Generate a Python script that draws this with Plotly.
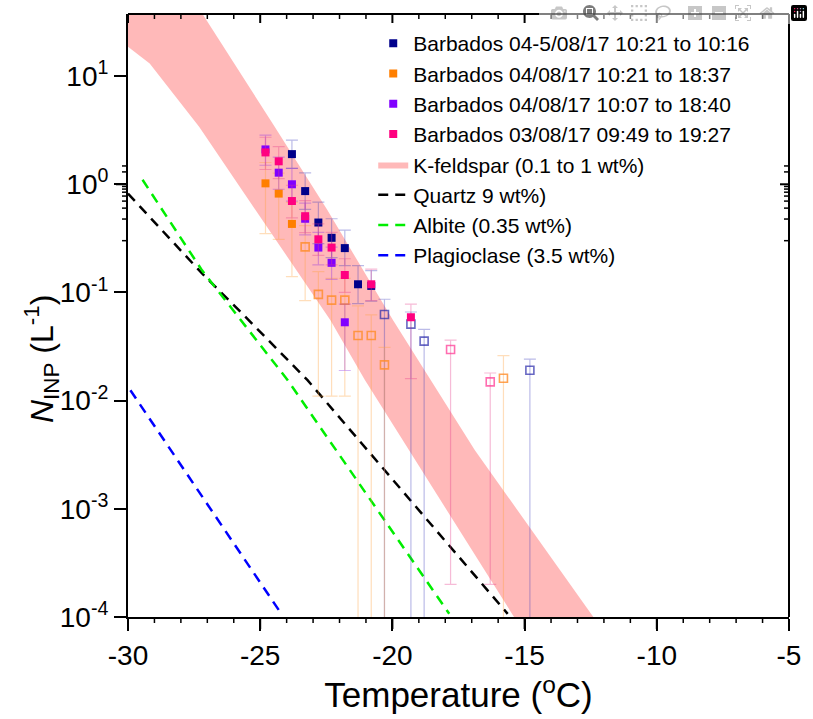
import math
import plotly.graph_objects as go

# ---------------- data ----------------
# Barbados 04-5/08/17 10:21 to 10:16 (navy)
navy_T = [-23.8, -23.3, -22.8, -22.3, -21.8, -21.3, -20.8]
navy_N = [1.90, 0.865, 0.443, 0.32, 0.257, 0.119, 0.115]
navy_up = [0.66, 0.41, 0.24, 0.16, 0.12, 0.058, 0.044]
navy_lo = [0.50, 0.28, 0.16, 0.11, 0.08, 0.040, 0.032]
navy_open_T = [-20.3, -19.3, -18.8, -14.8]
navy_open_N = [0.0625, 0.051, 0.0355, 0.0191]
navy_open_up = [0.024, 0.015, 0.010, 0.0051]
navy_open_lo = [0.0625, 0.051, 0.0355, 0.0191]

# Barbados 04/08/17 10:21 to 18:37 (orange)
orange_T = [-24.8, -24.3, -23.8]
orange_N = [1.02, 0.82, 0.43]
orange_up = [0.57, 0.45, 0.25]
orange_lo = [0.67, 0.51, 0.29]
orange_open_T = [-23.3, -22.8, -22.3, -21.8, -21.3, -20.8, -20.3, -15.8]
orange_open_N = [0.264, 0.096, 0.085, 0.085, 0.040, 0.040, 0.0214, 0.0161]
orange_open_up = [0.15, 0.06, 0.05, 0.05, 0.035, 0.022, 0.0097, 0.010]
orange_open_lo = [0.18, 0.085, 0.074, 0.074, 0.040, 0.040, 0.0214, 0.0161]

# Barbados 04/08/17 10:07 to 18:40 (purple)
purple_T = [-24.8, -24.3, -23.8, -23.3, -22.8, -22.3, -21.8]
purple_N = [2.1, 1.28, 1.0, 0.48, 0.26, 0.188, 0.053]
purple_up = [0.75, 0.50, 0.40, 0.19, 0.10, 0.075, 0.025]
purple_lo = [0.60, 0.38, 0.30, 0.14, 0.08, 0.056, 0.034]

# Barbados 03/08/17 09:49 to 19:27 (pink)
pink_T = [-24.8, -24.3, -23.8, -23.3, -22.8, -22.3, -21.8, -20.8, -19.3]
pink_N = [1.97, 1.63, 0.70, 0.507, 0.31, 0.26, 0.145, 0.119, 0.059]
pink_up = [0.75, 0.60, 0.28, 0.20, 0.12, 0.10, 0.06, 0.045, 0.019]
pink_lo = [0.60, 0.50, 0.21, 0.15, 0.09, 0.08, 0.045, 0.035, 0.043]
pink_open_T = [-17.8, -16.3]
pink_open_N = [0.0297, 0.0149]
pink_open_up = [0.0065, 0.0031]
pink_open_lo = [0.0295, 0.0147]

# K-feldspar band edges (0.1 wt% lower edge, 1 wt% upper edge)
kf_low_T = [-30.0, -29.18, -27.31, -22.35, -21.04, -15.4]
kf_low_N = [18.7, 13.1, 3.40, 0.0555, 0.0155, 1.0e-4]
kf_up_T = [-30.0, -27.2, -24.5, -22.46, -19.98, -16.88, -12.4]
kf_up_N = [447.0, 37.5, 3.55, 0.577, 0.0555, 0.00348, 1.0e-4]

# Mineral parameterisation lines
quartz_T = [-30.0, -27.2, -25.7, -23.21, -15.64]
quartz_N = [0.82, 0.150, 0.0646, 0.01545, 1.07e-4]
albite_T = [-29.45, -27.2, -23.96, -17.85]
albite_N = [1.10, 0.160, 0.01545, 1.07e-4]
plag_T = [-29.91, -24.2]
plag_N = [0.01247, 1.07e-4]

y_tick_vals = [1e-4, 1e-3, 1e-2, 1e-1, 1e0, 1e1]
y_tick_text = ["10<sup>-4</sup>", "10<sup>-3</sup>", "10<sup>-2</sup>",
               "10<sup>-1</sup>", "10<sup>0</sup>", "10<sup>1</sup>"]
y_minor_vals = [m * 10.0 ** e for e in range(-4, 2) for m in range(2, 10) if m * 10.0 ** e < 37]
x_tick_vals = [-30, -25, -20, -15, -10, -5]
x_tick_text = ["-30", "-25", "-20", "-15", "-10", "-5"]
x_minor_vals = [v for v in range(-29, -5) if v % 5 != 0]

# ---------------- figure ----------------
FONT = "Liberation Sans, Arial, sans-serif"
fig = go.Figure()

# K-feldspar band
fig.add_trace(go.Scatter(
    x=kf_low_T + kf_up_T[::-1], y=kf_low_N + kf_up_N[::-1],
    mode="lines", fill="toself", fillcolor="rgba(255,100,100,0.45)",
    line=dict(width=0, color="rgba(255,100,100,0.45)"),
    name="K-feldspar (0.1 to 1 wt%)", legendrank=5, hoverinfo="skip"))

dash = "10px,7px"
fig.add_trace(go.Scatter(x=quartz_T, y=quartz_N, mode="lines",
                         line=dict(color="black", width=2.5, dash=dash),
                         name="Quartz 9 wt%)", legendrank=6))
fig.add_trace(go.Scatter(x=albite_T, y=albite_N, mode="lines",
                         line=dict(color="#00ee00", width=2.5, dash=dash),
                         name="Albite (0.35 wt%)", legendrank=7))
fig.add_trace(go.Scatter(x=plag_T, y=plag_N, mode="lines",
                         line=dict(color="#0000ff", width=2.5, dash=dash),
                         name="Plagioclase (3.5 wt%)", legendrank=8))

series = [
    ("Barbados 04-5/08/17 10:21 to 10:16", "#00008b", "rgba(40,40,170,0.7)", "rgba(60,60,190,0.35)",
     navy_T, navy_N, navy_up, navy_lo, navy_open_T, navy_open_N, navy_open_up, navy_open_lo, 1),
    ("Barbados 04/08/17 10:21 to 18:37", "#ff7f00", "rgba(255,140,40,0.8)", "rgba(255,160,60,0.35)",
     orange_T, orange_N, orange_up, orange_lo, orange_open_T, orange_open_N, orange_open_up, orange_open_lo, 2),
    ("Barbados 04/08/17 10:07 to 18:40", "#8000ff", "rgba(128,0,255,0.7)", "rgba(140,40,230,0.35)",
     purple_T, purple_N, purple_up, purple_lo, [], [], [], [], 3),
    ("Barbados 03/08/17 09:49 to 19:27", "#ff0080", "rgba(255,60,150,0.75)", "rgba(230,60,140,0.35)",
     pink_T, pink_N, pink_up, pink_lo, pink_open_T, pink_open_N, pink_open_up, pink_open_lo, 4),
]

for name, col, ocol, ecol, T, N, up, lo, oT, oN, oup, olo, rank in series:
    if oT:
        fig.add_trace(go.Scatter(
            x=oT, y=oN, mode="markers", showlegend=False,
            marker=dict(symbol="square-open", size=8, color=ocol, line=dict(width=1.6, color=ocol)),
            error_y=dict(type="data", symmetric=False, array=oup, arrayminus=olo,
                         color=ecol, thickness=1.2, width=6)))
for name, col, ocol, ecol, T, N, up, lo, oT, oN, oup, olo, rank in series:
    fig.add_trace(go.Scatter(
        x=T, y=N, mode="markers", name=name, legendrank=rank,
        marker=dict(symbol="square", size=8, color=col),
        error_y=dict(type="data", symmetric=False, array=up, arrayminus=lo,
                     color=ecol, thickness=1.2, width=6)))

# ---------------- frame and tick marks (drawn as shapes) ----------------
shapes = []
blk = "black"
shapes.append(dict(type="line", xref="paper", yref="paper", x0=0, x1=1, y0=1, y1=1,
                   opacity=1, layer="above", line=dict(color=blk, width=2)))
shapes.append(dict(type="line", xref="paper", yref="paper", x0=1, x1=1, y0=0, y1=1,
                   opacity=1, layer="above", line=dict(color=blk, width=2)))


def xtick(v, anchor, length, width):
    return dict(type="line", xref="x", yref="paper", x0=v, x1=v,
                ysizemode="pixel", yanchor=anchor, y0=0, y1=length,
                opacity=1, layer="above", line=dict(color=blk, width=width))


def ytick(v, anchor, length, width):
    lv = math.log10(v)
    return dict(type="line", xref="paper", yref="y", y0=lv, y1=lv,
                xsizemode="pixel", xanchor=anchor, x0=0, x1=length,
                opacity=1, layer="above", line=dict(color=blk, width=width))


for v in x_tick_vals:
    shapes.append(xtick(v, 0, -12, 2))     # bottom, outside
    shapes.append(xtick(v, 1, -9, 2))      # top, inside
for v in x_minor_vals:
    shapes.append(xtick(v, 0, -6, 1.5))
    shapes.append(xtick(v, 1, -5, 1.5))
for v in y_tick_vals:
    shapes.append(ytick(v, 0, -12, 2))     # left, outside
    shapes.append(ytick(v, 1, -9, 2))      # right, inside
for v in y_minor_vals:
    shapes.append(ytick(v, 0, -6, 1.5))
    shapes.append(ytick(v, 1, -5, 1.5))

xr = [-30, -5]
yr = [-4, 1.574]
tickfont = dict(family=FONT, size=28, color="black")

fig.update_layout(
    template="simple_white",
    width=813, height=719,
    margin=dict(l=128, r=14, t=14, b=102),
    paper_bgcolor="white", plot_bgcolor="white",
    font=dict(family=FONT, color="black"),
    showlegend=True,
    legend=dict(x=0.371, y=0.985, xanchor="left", yanchor="top",
                font=dict(family=FONT, size=21, color="black"),
                bgcolor="rgba(0,0,0,0)", borderwidth=0, tracegroupgap=0,
                itemsizing="trace"),
    xaxis=dict(range=xr, showgrid=False, zeroline=False, mirror=False,
               showline=True, linecolor="black", linewidth=2,
               ticks="outside", ticklen=12, tickwidth=2, tickcolor="black",
               tickmode="array", tickvals=x_tick_vals, ticktext=x_tick_text,
               tickfont=tickfont,
               title=dict(text="Temperature (<sup>o</sup>C)", font=dict(family=FONT, size=35), standoff=4)),
    yaxis=dict(type="log", range=yr, showgrid=False, zeroline=False, mirror=False,
               showline=True, linecolor="black", linewidth=2,
               ticks="outside", ticklen=12, tickwidth=2, tickcolor="black",
               tickmode="array", tickvals=y_tick_vals, ticktext=y_tick_text,
               tickfont=tickfont),
    shapes=shapes,
    annotations=[dict(text="<i>N</i><sub>INP</sub> (L<sup>-1</sup>)", textangle=-90,
                      xref="paper", yref="paper", x=-0.13, y=0.428,
                      xanchor="center", yanchor="middle", showarrow=False,
                      font=dict(family=FONT, size=32, color="black"))],
)

post = ("document.documentElement.style.margin='0px';"
        "document.body.style.margin='0px';"
        "document.documentElement.style.overflow='hidden';"
        "document.body.style.overflow='hidden';")
fig.write_html("out.html", post_script=post)
